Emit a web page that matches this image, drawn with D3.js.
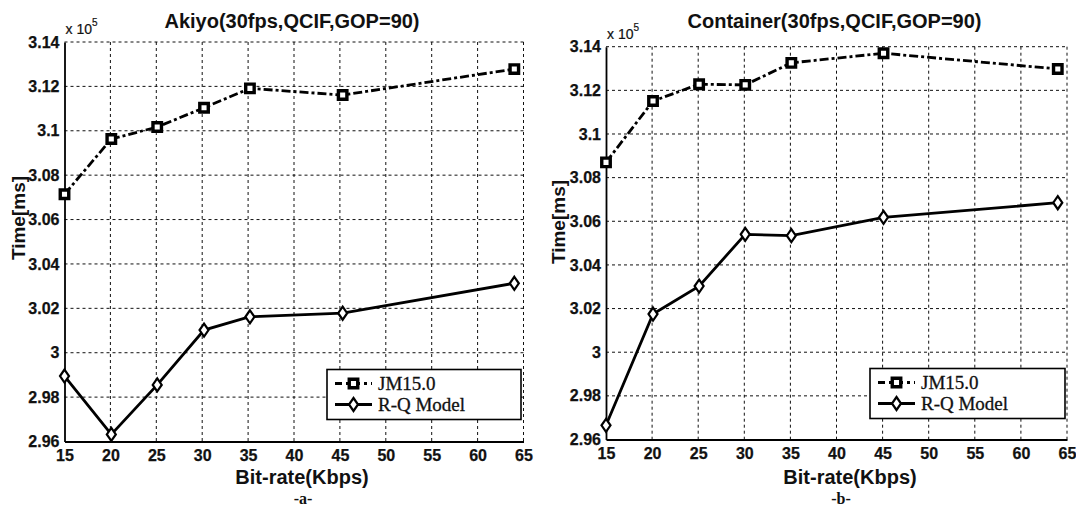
<!DOCTYPE html>
<html><head><meta charset="utf-8">
<script src="https://cdn.jsdelivr.net/npm/d3@7"></script>
<style>
body{margin:0;background:#fff;}
svg{display:block;}
.tick text{font-family:"Liberation Sans",Arial,sans-serif;font-weight:bold;font-size:16px;fill:#111;stroke:#111;stroke-width:0.25px;}
</style></head>
<body><svg id="c" width="1076" height="506"></svg>
<script>
// ---- data ----
const bitrateA = [15, 20.1, 25.1, 30.2, 35.2, 45.3, 64];
const jmA      = [3.0714, 3.0963, 3.1017, 3.1104, 3.1191, 3.1161, 3.1278];
const rqA      = [2.9895, 2.9632, 2.9855, 3.0102, 3.0162, 3.0178, 3.0313];
const bitrateB = [15, 20.1, 25.1, 30.1, 35.1, 45.1, 64];
const jmB      = [3.0870, 3.1151, 3.1228, 3.1225, 3.1326, 3.1370, 3.1298];
const rqB      = [2.9665, 3.0175, 3.0303, 3.0540, 3.0534, 3.0618, 3.0685];
const xTicks = [15, 20, 25, 30, 35, 40, 45, 50, 55, 60, 65];
const yTicks = [2.96, 2.98, 3.00, 3.02, 3.04, 3.06, 3.08, 3.10, 3.12, 3.14];
const yTickLabels = ["2.96", "2.98", "3", "3.02", "3.04", "3.06", "3.08", "3.1", "3.12", "3.14"];
const seriesNames = ["JM15.0", "R-Q Model"];
const titles = ["Akiyo(30fps,QCIF,GOP=90)", "Container(30fps,QCIF,GOP=90)"];
const subLabels = ["-a-", "-b-"];

const svg = d3.select("#c");

const panels = [
  {x: bitrateA, jm: jmA, rq: rqA, title: titles[0], sub: subLabels[0],
   L: 64.5, R: 523.5, T: 42, B: 441.5, ylabX: 19, ylabY: 218, xlabX: 302, subX: 303,
   leg: {x: 327, y: 369.5, w: 194, h: 50}},
  {x: bitrateB, jm: jmB, rq: rqB, title: titles[1], sub: subLabels[1],
   L: 606, R: 1067, T: 46.7, B: 439.5, ylabX: 559, ylabY: 222, xlabX: 850, subX: 841,
   leg: {x: 870, y: 368.5, w: 195, h: 50}}
];

const sqSym = d3.symbol().type(d3.symbolSquare).size(72);
const diamond = "M0,-6.5L4.5,0L0,6.5L-4.5,0Z";

panels.forEach(p => {
  const xs = d3.scaleLinear().domain([15, 65]).range([p.L, p.R]);
  const ys = d3.scaleLinear().domain([2.96, 3.14]).range([p.B, p.T]);
  const g = svg.append("g");

  // grid
  g.append("g").selectAll("line.v").data(xTicks.slice(1)).join("line")
    .attr("x1", d => xs(d)).attr("x2", d => xs(d)).attr("y1", p.T).attr("y2", p.B)
    .attr("stroke", "#111").attr("stroke-width", 1).attr("stroke-dasharray", "3,3");
  g.append("g").selectAll("line.h").data(yTicks.slice(1)).join("line")
    .attr("y1", d => ys(d)).attr("y2", d => ys(d)).attr("x1", p.L).attr("x2", p.R)
    .attr("stroke", "#111").attr("stroke-width", 1).attr("stroke-dasharray", "3,3");

  // axes
  const xa = g.append("g").attr("transform", `translate(0,${p.B})`)
    .call(d3.axisBottom(xs).tickValues(xTicks).tickSize(0).tickPadding(8));
  xa.select(".domain").attr("stroke", "#000").attr("stroke-width", 1.8);
  const ya = g.append("g").attr("transform", `translate(${p.L},0)`)
    .call(d3.axisLeft(ys).tickValues(yTicks).tickSize(0).tickPadding(5)
      .tickFormat((d, i) => yTickLabels[i]));
  ya.select(".domain").attr("stroke", "#000").attr("stroke-width", 1.8);

  // exponent
  const ex = g.append("text").attr("x", p.L + 1).attr("y", p.T - 8)
    .attr("font-family", "Liberation Sans, Arial, sans-serif").attr("font-size", 14)
    .attr("fill", "#111").attr("stroke", "#111").attr("stroke-width", 0.2);
  ex.append("tspan").text("x 10");
  ex.append("tspan").attr("dy", -8).attr("font-size", 10).text("5");

  // titles
  g.append("text").attr("x", (p.L + p.R) / 2 - 2).attr("y", 28).attr("text-anchor", "middle")
    .attr("font-family", "Liberation Sans, Arial, sans-serif").attr("font-weight", "bold")
    .attr("font-size", 20).attr("fill", "#111").text(p.title);
  g.append("text").attr("transform", `translate(${p.ylabX + 6},${p.ylabY}) rotate(-90)`)
    .attr("text-anchor", "middle")
    .attr("font-family", "Liberation Sans, Arial, sans-serif").attr("font-weight", "bold")
    .attr("font-size", 19).attr("fill", "#111").text("Time[ms]");
  g.append("text").attr("x", p.xlabX).attr("y", 484).attr("text-anchor", "middle")
    .attr("font-family", "Liberation Sans, Arial, sans-serif").attr("font-weight", "bold")
    .attr("font-size", 20).attr("fill", "#111").text("Bit-rate(Kbps)");
  g.append("text").attr("x", p.subX).attr("y", 504).attr("text-anchor", "middle")
    .attr("font-family", "Liberation Serif, Times New Roman, serif").attr("font-weight", "bold")
    .attr("font-size", 16).attr("fill", "#111").text(p.sub);

  const line = d3.line().x(d => xs(d[0])).y(d => ys(d[1]));
  const jmPts = p.x.map((v, i) => [v, p.jm[i]]);
  const rqPts = p.x.map((v, i) => [v, p.rq[i]]);

  g.append("path").attr("d", line(jmPts)).attr("fill", "none").attr("stroke", "#000")
    .attr("stroke-width", 2.8).attr("stroke-dasharray", "9,3,3,3");
  g.append("path").attr("d", line(rqPts)).attr("fill", "none").attr("stroke", "#000")
    .attr("stroke-width", 2.8);

  g.append("g").selectAll("path").data(jmPts).join("path")
    .attr("d", sqSym).attr("transform", d => `translate(${xs(d[0])},${ys(d[1])})`)
    .attr("fill", "#fff").attr("stroke", "#000").attr("stroke-width", 3.4);
  g.append("g").selectAll("path").data(rqPts).join("path")
    .attr("d", diamond).attr("transform", d => `translate(${xs(d[0])},${ys(d[1])})`)
    .attr("fill", "#fff").attr("stroke", "#000").attr("stroke-width", 2.2);

  // legend
  const lg = g.append("g").attr("transform", `translate(${p.leg.x},${p.leg.y})`);
  lg.append("rect").attr("width", p.leg.w).attr("height", p.leg.h)
    .attr("fill", "#fff").attr("stroke", "#000").attr("stroke-width", 1.6);
  const rows = [14, 35];
  seriesNames.forEach((name, i) => {
    const yy = rows[i];
    lg.append("line").attr("x1", 8).attr("x2", 45).attr("y1", yy).attr("y2", yy)
      .attr("stroke", "#000").attr("stroke-width", 2.8)
      .attr("stroke-dasharray", i === 0 ? "7,4,3,4" : null);
    lg.append("path").attr("d", i === 0 ? sqSym : diamond)
      .attr("transform", `translate(26.5,${yy})`)
      .attr("fill", "#fff").attr("stroke", "#000").attr("stroke-width", i === 0 ? 3.4 : 2.2);
    lg.append("text").attr("x", 51).attr("y", yy + 6)
      .attr("font-family", "Liberation Serif, Times New Roman, serif")
      .attr("font-size", 19).attr("fill", "#111").attr("stroke", "#111").attr("stroke-width", 0.3)
      .text(name);
  });
});
</script></body></html>
